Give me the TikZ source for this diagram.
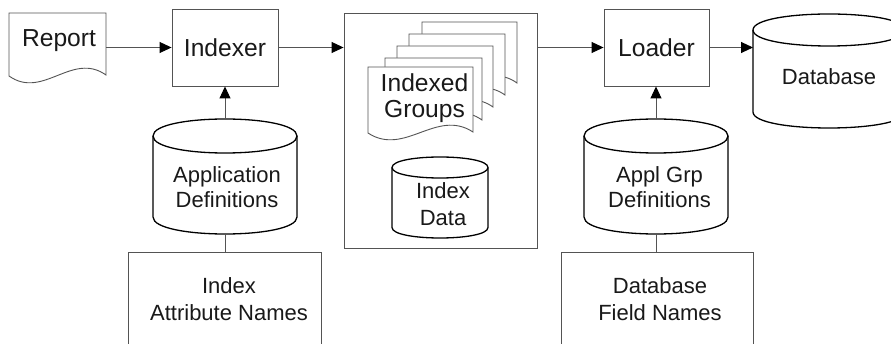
\documentclass[tikz,border=0pt]{standalone}
\usepackage{fontspec}
\setmainfont{Liberation Sans}
\usetikzlibrary{arrows.meta}
\definecolor{lgray}{rgb}{0.33,0.33,0.33}
\definecolor{tcol}{rgb}{0.1,0.1,0.1}
\newcommand\mydoc[4]{\path[docsty] (#1,#2) -- ({#1+#3},#2) -- ({#1+#3},{#2+#4-1}) .. controls ({#1+0.65*#3},{#2+#4-25}) and ({#1+0.35*#3},{#2+#4+24}) .. (#1,{#2+#4}) -- cycle;}
\newcommand\mycyl[6]{%
 \pgfmathsetmacro\cL{#2}\pgfmathsetmacro\cR{#3}\pgfmathsetmacro\cT{#4}\pgfmathsetmacro\cB{#5}\pgfmathsetmacro\cry{#6}%
 \pgfmathsetmacro\cyt{\cT+\cry}\pgfmathsetmacro\cyb{\cB-\cry}\pgfmathsetmacro\ck{4/3*\cry}%
 \path[cylsty] (\cL,\cyt) .. controls (\cL,\cyt-\ck) and (\cR,\cyt-\ck) .. (\cR,\cyt) -- (\cR,\cyb) .. controls (\cR,\cyb+\ck) and (\cL,\cyb+\ck) .. (\cL,\cyb) -- cycle;
 \draw[cylline] (\cL,\cyt) .. controls (\cL,\cyt+\ck) and (\cR,\cyt+\ck) .. (\cR,\cyt);
 \node[ghost, minimum width={(\cR-\cL)*1pt}, minimum height={(\cB-\cT)*1pt}] (#1) at ({(\cL+\cR)/2},{(\cT+\cB)/2}) {};
}
\begin{document}
\begin{tikzpicture}[x=1pt,y=-1pt,
 boxsty/.style={draw=lgray, line width=0.9pt, fill=white, inner sep=0pt},
 docsty/.style={draw=lgray, line width=0.9pt, fill=white},
 cylsty/.style={draw=black, line width=1.3pt, fill=white, line join=round},
 cylline/.style={draw=black, line width=1.3pt},
 ghost/.style={inner sep=0pt, outer sep=0pt},
 conn/.style={draw=lgray, line width=0.9pt},
 arr/.style={conn, -{Triangle[length=12pt,width=11pt,color=black]}},
 bigtxt/.style={font=\fontsize{24.6}{26}\selectfont, text=tcol, inner sep=0pt, align=center},
 smalltxt/.style={font=\fontsize{22}{27}\selectfont, text=tcol, inner sep=0pt, align=center},
]
\useasboundingbox (0,0) rectangle (891,344);
\clip (0,0) rectangle (891,344);

% Report
\mydoc{9}{13}{97}{63}
\node[ghost, minimum width=97pt, minimum height=63pt] (report) at (57.5,44.5) {};
\node[bigtxt, anchor=base] (reportT) at (59,47) {Report};

% Indexer
\node[boxsty, bigtxt, draw=lgray, minimum width=106pt, minimum height=77pt] (indexer) at (225,47.5) {Indexer};

% Application Definitions
\mycyl{appdef}{153}{297}{119}{234}{17}
\node[smalltxt, font=\fontsize{22}{25}\selectfont] (appdefT) at (227,186.8) {Application\\Definitions};

% Index Attribute Names
\node[boxsty, minimum width=193pt, minimum height=120pt, anchor=north] (attrnames) at (224.5,252) {};
\node[smalltxt] (attrT) at (229,298.8) {Index\\Attribute Names};

% Container
\node[boxsty, minimum width=193pt, minimum height=235pt] (groups) at (440.5,130.5) {};
\mydoc{422}{22}{95}{62}
\mydoc{409}{34}{96}{62}
\mydoc{397}{46}{96}{62}
\mydoc{385}{58}{97}{63}
\mydoc{368}{67}{105}{66}
\node[bigtxt] (stackT) at (424.5,97.9) {Indexed\\Groups};
\mycyl{indexdata}{392}{488}{157}{238}{10.5}
\node[smalltxt] (indexdataT) at (443,203.8) {Index\\Data};

% Loader
\node[boxsty, bigtxt, draw=lgray, minimum width=105pt, minimum height=77pt] (loader) at (656.5,47.5) {Loader};

% Appl Grp Definitions
\mycyl{applgrp}{584}{728}{119}{234}{17}
\node[smalltxt, font=\fontsize{22}{25}\selectfont] (applgrpT) at (659.5,186.8) {Appl Grp\\Definitions};

% Database Field Names
\node[boxsty, minimum width=192pt, minimum height=120pt, anchor=north] (fieldnames) at (657,252) {};
\node[smalltxt] (fieldT) at (660,298.8) {Database\\Field Names};

% Database
\mycyl{database}{753}{905}{14}{128}{16}
\node[smalltxt, anchor=base] (databaseT) at (829,85) {Database};

% Connectors
\draw[arr] (report.east |- indexer.west) -- (indexer.west);
\draw[arr] (indexer.east) -- (groups.west |- indexer.east);
\draw[arr] (groups.east |- loader.west) -- (loader.west);
\draw[arr] (loader.east) -- (database.west |- loader.east);
\draw[arr] (appdef.north) -- (appdef.north |- indexer.south);
\draw[conn] (appdef.south) -- (appdef.south |- attrnames.north);
\draw[arr] (applgrp.north) -- (applgrp.north |- loader.south);
\draw[conn] (applgrp.south) -- (applgrp.south |- fieldnames.north);
\end{tikzpicture}
\end{document}
